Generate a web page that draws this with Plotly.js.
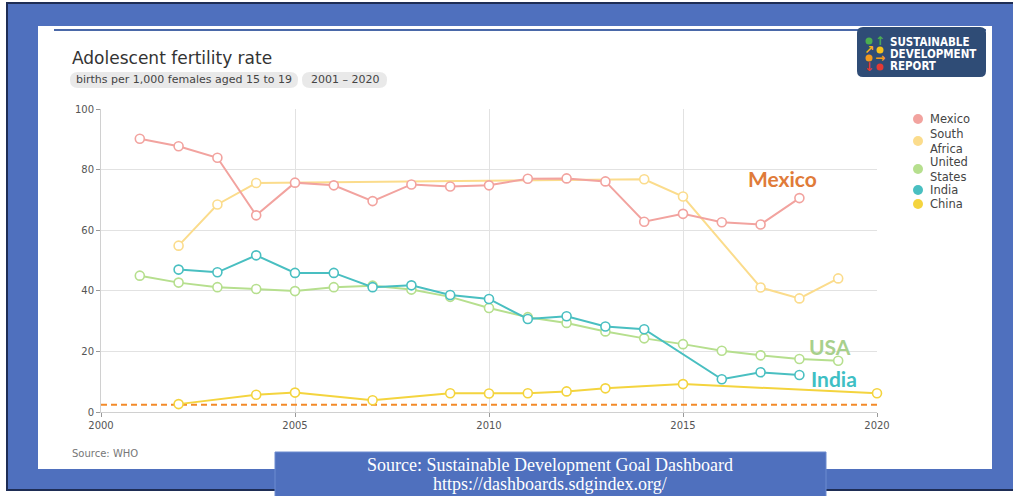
<!DOCTYPE html>
<html>
<head>
<meta charset="utf-8">
<script src="https://cdn.plot.ly/plotly-3.0.1.min.js"></script>
<style>
  html, body { margin: 0; padding: 0; background: #ffffff; }
  #chart { width: 1013px; height: 496px; }
</style>
</head>
<body>
<div id="chart"></div>
<script>
// Adolescent fertility rate, births per 1,000 females aged 15 to 19 (WHO)
const mexicoYears = [2001, 2002, 2003, 2004, 2005, 2006, 2007, 2008, 2009, 2010, 2011, 2012, 2013, 2014, 2015, 2016, 2017, 2018];
const mexicoRate  = [90.2, 87.7, 83.9, 64.9, 75.7, 74.8, 69.6, 75.1, 74.4, 74.8, 77.0, 77.1, 76.1, 62.8, 65.4, 62.6, 61.9, 70.6];

const southAfricaYears = [2002, 2003, 2004, 2014, 2015, 2017, 2018, 2019];
const southAfricaRate  = [54.9, 68.5, 75.6, 76.8, 71.1, 41.1, 37.5, 44.1];

const usYears = [2001, 2002, 2003, 2004, 2005, 2006, 2007, 2008, 2009, 2010, 2011, 2012, 2013, 2014, 2015, 2016, 2017, 2018, 2019];
const usRate  = [45.0, 42.7, 41.2, 40.6, 39.9, 41.2, 41.7, 40.4, 38.0, 34.3, 31.3, 29.4, 26.6, 24.3, 22.4, 20.2, 18.7, 17.5, 16.9];

const indiaYears = [2002, 2003, 2004, 2005, 2006, 2007, 2008, 2009, 2010, 2011, 2012, 2013, 2014, 2016, 2017, 2018];
const indiaRate  = [47.0, 46.1, 51.7, 45.9, 45.9, 41.2, 41.8, 38.6, 37.3, 30.7, 31.6, 28.2, 27.3, 10.8, 13.1, 12.2];

const chinaYears = [2002, 2004, 2005, 2007, 2009, 2010, 2011, 2012, 2013, 2015, 2020];
const chinaRate  = [2.6, 5.7, 6.4, 3.9, 6.2, 6.1, 6.2, 6.8, 7.8, 9.2, 6.2];

// Dashed reference level across the period
const targetYears = [2000, 2020];
const targetLevel = [2.4, 2.4];

const xTickValues = [2000, 2005, 2010, 2015, 2020];
const yTickValues = [0, 20, 40, 60, 80, 100];

const seriesNames  = ['Mexico', 'South<br>Africa', 'United<br>States', 'India', 'China'];
const seriesColors = ['#f2a39f', '#fbdc8c', '#b6df8e', '#49bfc1', '#f4d43e'];

const W = 1013, H = 496;
const px = x => x / W;
const py = y => 1 - y / H;

const SANS = 'DejaVu Sans, Verdana, sans-serif';

function lineTrace(x, y, color) {
  return {
    x: x, y: y, type: 'scatter', mode: 'lines+markers',
    line: { color: color, width: 2 },
    marker: { size: 9, color: '#ffffff', line: { color: color, width: 1.6 } },
    hoverinfo: 'x+y', showlegend: false, cliponaxis: false
  };
}

const traces = [
  {
    x: targetYears, y: targetLevel, type: 'scatter', mode: 'lines',
    line: { color: '#f28a2a', width: 2, dash: '6px,4px' },
    hoverinfo: 'skip', showlegend: false
  },
  lineTrace(chinaYears, chinaRate, seriesColors[4]),
  lineTrace(usYears, usRate, seriesColors[2]),
  lineTrace(indiaYears, indiaRate, seriesColors[3]),
  lineTrace(southAfricaYears, southAfricaRate, seriesColors[1]),
  lineTrace(mexicoYears, mexicoRate, seriesColors[0])
];

// rounded rectangle path in paper coordinates, corners given in pixels
function roundRect(x0, y0, x1, y1, r) {
  const P = (x, y) => px(x) + ',' + py(y);
  return 'M' + P(x0 + r, y0) + ' L' + P(x1 - r, y0) + ' Q' + P(x1, y0) + ' ' + P(x1, y0 + r) +
         ' L' + P(x1, y1 - r) + ' Q' + P(x1, y1) + ' ' + P(x1 - r, y1) +
         ' L' + P(x0 + r, y1) + ' Q' + P(x0, y1) + ' ' + P(x0, y1 - r) +
         ' L' + P(x0, y0 + r) + ' Q' + P(x0, y0) + ' ' + P(x0 + r, y0) + ' Z';
}

function rectShape(x0, y0, x1, y1, fill, lineColor, lineWidth, layer) {
  return {
    type: 'rect', xref: 'paper', yref: 'paper',
    x0: px(x0), x1: px(x1), y0: py(y1), y1: py(y0),
    fillcolor: fill, line: { color: lineColor || fill, width: lineWidth || 0 },
    layer: layer || 'below'
  };
}

function dot(cx, cy, r, color, layer) {
  return {
    type: 'circle', xref: 'paper', yref: 'paper',
    x0: px(cx - r), x1: px(cx + r), y0: py(cy + r), y1: py(cy - r),
    fillcolor: color, line: { width: 0 }, layer: layer || 'above'
  };
}

const shapes = [
  // outer frame and white card
  rectShape(7, 3, 1016, 490, '#4f70be', '#1e2d55', 2),
  rectShape(38, 26, 992, 469, '#ffffff'),
  { type: 'line', xref: 'paper', yref: 'paper', x0: px(54), x1: px(986), y0: py(30), y1: py(30),
    line: { color: '#4a68a8', width: 2 }, layer: 'below' },
  // subtitle pills
  { type: 'path', xref: 'paper', yref: 'paper', path: roundRect(70, 72, 298, 88, 8),
    fillcolor: '#e9e9e9', line: { width: 0 }, layer: 'below' },
  { type: 'path', xref: 'paper', yref: 'paper', path: roundRect(302, 72, 387, 88, 8),
    fillcolor: '#e9e9e9', line: { width: 0 }, layer: 'below' },
  // report badge
  { type: 'path', xref: 'paper', yref: 'paper', path: roundRect(857, 27, 986, 77, 6),
    fillcolor: '#2f4c76', line: { width: 0 }, layer: 'above' },
  dot(869, 41, 3.5, '#4caf50'),
  dot(880, 50, 3.5, '#f6c21c'),
  dot(869, 58, 3.5, '#f39a1e'),
  dot(880, 67, 3.5, '#e53935'),
  // bottom source banner
  rectShape(275, 452, 826, 500, '#4f70be', '#6d8bd0', 1, 'above')
];

// legend markers
const legendY = [119, 141, 169, 190, 204];
legendY.forEach((y, i) => shapes.push(dot(918, y, 5, seriesColors[i])));

const annotations = [
  { text: 'Adolescent fertility rate', x: px(70), y: py(58), xanchor: 'left', yanchor: 'middle',
    font: { family: SANS, size: 17, color: '#333333' } },
  { text: 'births per 1,000 females aged 15 to 19', x: px(184), y: py(80), xanchor: 'center', yanchor: 'middle',
    font: { family: SANS, size: 11, color: '#444444' } },
  { text: '2001 – 2020', x: px(344.5), y: py(80), xanchor: 'center', yanchor: 'middle',
    font: { family: SANS, size: 11, color: '#444444' } },
  { text: 'Source: WHO', x: px(70), y: py(453), xanchor: 'left', yanchor: 'middle',
    font: { family: SANS, size: 10, color: '#777777' } },
  // series call-outs
  { text: '<b>Mexico</b>', x: px(782), y: py(179), xanchor: 'center', yanchor: 'middle',
    font: { family: 'Lato, Open Sans, sans-serif', size: 21, color: '#e07b39' } },
  { text: '<b>USA</b>', x: px(830), y: py(346), xanchor: 'center', yanchor: 'middle',
    font: { family: 'Lato, Open Sans, sans-serif', size: 21, color: '#a8d08c' } },
  { text: '<b>India</b>', x: px(834), y: py(378), xanchor: 'center', yanchor: 'middle',
    font: { family: 'Lato, Open Sans, sans-serif', size: 21, color: '#3fbfc4' } },
  // badge text and arrows
  { text: '<b>SUSTAINABLE</b>', x: px(888), y: py(42), xanchor: 'left', yanchor: 'middle',
    font: { family: 'DejaVu Sans Condensed, DejaVu Sans, sans-serif', size: 11.5, color: '#ffffff' } },
  { text: '<b>DEVELOPMENT</b>', x: px(888), y: py(54), xanchor: 'left', yanchor: 'middle',
    font: { family: 'DejaVu Sans Condensed, DejaVu Sans, sans-serif', size: 11.5, color: '#ffffff' } },
  { text: '<b>REPORT</b>', x: px(888), y: py(66), xanchor: 'left', yanchor: 'middle',
    font: { family: 'DejaVu Sans Condensed, DejaVu Sans, sans-serif', size: 11.5, color: '#ffffff' } },
  { text: '<b>↑</b>', x: px(880), y: py(41), xanchor: 'center', yanchor: 'middle',
    font: { family: SANS, size: 12, color: '#4caf50' } },
  { text: '<b>↗</b>', x: px(869), y: py(50), xanchor: 'center', yanchor: 'middle',
    font: { family: SANS, size: 12, color: '#f6b21c' } },
  { text: '<b>→</b>', x: px(880), y: py(58), xanchor: 'center', yanchor: 'middle',
    font: { family: SANS, size: 12, color: '#f39a1e' } },
  { text: '<b>↓</b>', x: px(869), y: py(67), xanchor: 'center', yanchor: 'middle',
    font: { family: SANS, size: 12, color: '#e53935' } },
  // banner text
  { text: 'Source: Sustainable Development Goal Dashboard', x: px(550), y: py(465), xanchor: 'center', yanchor: 'middle',
    font: { family: 'Liberation Serif, Times New Roman, serif', size: 18, color: '#ffffff' } },
  { text: 'https://dashboards.sdgindex.org/', x: px(550), y: py(484), xanchor: 'center', yanchor: 'middle',
    font: { family: 'Liberation Serif, Times New Roman, serif', size: 18, color: '#ffffff' } }
];

// legend labels
const legendTextY = [119, 141, 169, 190, 204];
seriesNames.forEach((name, i) => {
  annotations.push({
    text: name, x: px(928), y: py(legendTextY[i]), xanchor: 'left', yanchor: 'middle', align: 'left',
    font: { family: SANS, size: 11.5, color: '#444444' }
  });
});
annotations.forEach(a => { a.xref = 'paper'; a.yref = 'paper'; a.showarrow = false; });

const layout = {
  width: W, height: H,
  margin: { l: 0, r: 0, t: 0, b: 0 },
  paper_bgcolor: '#ffffff',
  plot_bgcolor: 'rgba(0,0,0,0)',
  showlegend: false,
  xaxis: {
    domain: [px(101), px(877)], range: [2000, 2020],
    tickmode: 'array', tickvals: xTickValues, ticktext: xTickValues.map(String),
    showgrid: true, gridcolor: '#e2e2e2', gridwidth: 1,
    showline: true, linecolor: '#d0d0d0', linewidth: 1,
    ticks: 'outside', ticklen: 4, tickcolor: '#999999',
    zeroline: false,
    tickfont: { family: SANS, size: 10, color: '#555555' }
  },
  yaxis: {
    domain: [py(412), py(109)], range: [0, 100],
    tickmode: 'array', tickvals: yTickValues, ticktext: yTickValues.map(String),
    showgrid: true, gridcolor: '#e2e2e2', gridwidth: 1,
    showline: true, linecolor: '#d0d0d0', linewidth: 1,
    ticks: 'outside', ticklen: 4, tickcolor: '#999999',
    zeroline: false,
    tickfont: { family: SANS, size: 10, color: '#555555' }
  },
  shapes: shapes,
  annotations: annotations
};

Plotly.newPlot('chart', traces, layout, { displayModeBar: false, staticPlot: true });
</script>
</body>
</html>
